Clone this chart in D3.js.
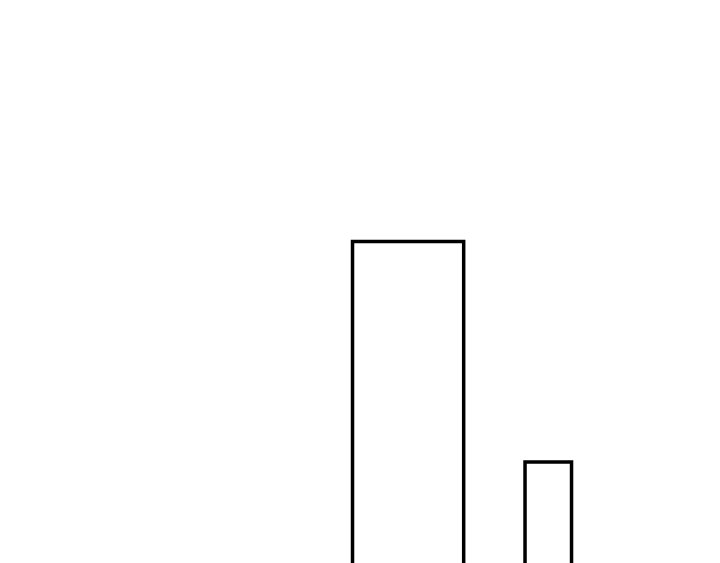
<!DOCTYPE html>
<html>
<head>
<meta charset="utf-8">
<script src="https://cdn.jsdelivr.net/npm/d3@7"></script>
<style>
  html, body { margin: 0; padding: 0; background: #fff; overflow: hidden; }
</style>
</head>
<body>
<div id="chart"></div>
<script>
const width = 720;
const height = 563;

// bar data: start / end along x, and height value
const categories = ["A", "B"];
const xStart = [48.96, 72.92];
const xEnd = [64.4, 79.38];
const values = [71.7, 27.6];

const data = categories.map((c, i) => ({ cat: c, x0: xStart[i], x1: xEnd[i], value: values[i] }));

const svg = d3.select("#chart")
    .append("svg")
    .attr("width", width)
    .attr("height", height);

svg.append("rect")
    .attr("width", width)
    .attr("height", height)
    .attr("fill", "#fff");

const x = d3.scaleLinear()
    .domain([0, 100])
    .range([0, width]);

// baseline sits below the visible area
const y = d3.scaleLinear()
    .domain([0, 100])
    .range([600, 100]);

svg.append("g")
    .selectAll("rect")
    .data(data)
    .enter()
    .append("rect")
    .attr("x", d => x(d.x0))
    .attr("y", d => y(d.value))
    .attr("width", d => x(d.x1) - x(d.x0))
    .attr("height", d => y(0) - y(d.value))
    .attr("fill", "none")
    .attr("stroke", "#000")
    .attr("stroke-width", 3.5);
</script>
</body>
</html>
